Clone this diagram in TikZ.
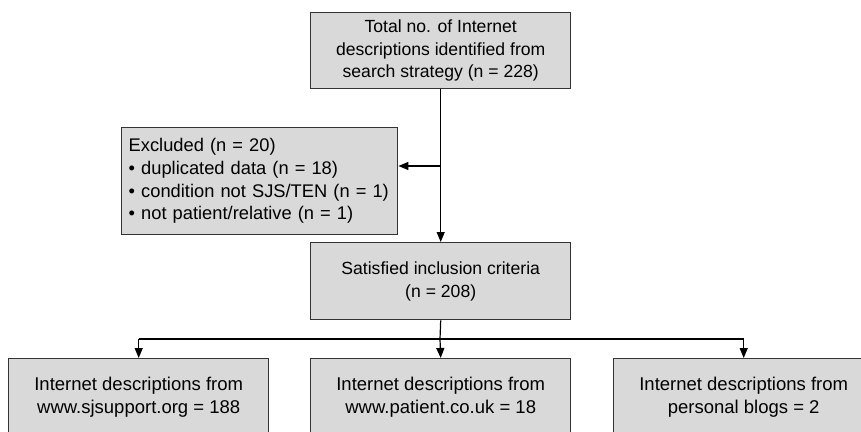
\documentclass[tikz,border=0pt]{standalone}
\usepackage{fontspec}
\setmainfont{Liberation Sans}
\usetikzlibrary{arrows.meta}
\begin{document}
\begin{tikzpicture}[x=1pt,y=-1pt,
  box/.style={draw=black!80,line width=1.4pt,fill=gray!30,inner sep=0pt,
    font=\fontsize{17.6}{22.7}\selectfont,align=center,anchor=north west,
    minimum width=260pt,minimum height=77pt},
  bigtext/.style={font=\fontsize{18.5}{22.5}\selectfont},
  conn/.style={line width=1.2pt,-{Triangle[length=10pt,width=8pt]}},
  plain/.style={line width=1.2pt}]
\clip (0,0) rectangle (861,431);
\fill[white] (0,0) rectangle (861,431);
\node[box,minimum height=76pt] (top) at (310,12) {Total no. of Internet\\descriptions identified from\\search strategy (n = 228)};
\node[box,align=left,text width=262pt,inner xsep=7pt,minimum height=107pt,
  font=\fontsize{18.3}{22.7}\selectfont] (excl) at (121,127)
  {\mbox{Excluded (n = 20)}\\\mbox{\textbullet\ duplicated data (n = 18)}\\\mbox{\textbullet\ condition not SJS/TEN (n = 1)}\\\mbox{\textbullet\ not patient/relative (n = 1)}};
\node[box] (mid) at (310,242) {Satisfied inclusion criteria\\(n = 208)};
\node[box,bigtext] (b1) at (8,358) {Internet descriptions from\\www.sjsupport.org = 188};
\node[box,bigtext] (b2) at (310,358) {Internet descriptions from\\www.patient.co.uk = 18};
\node[box,bigtext] (b3) at (613,358) {Internet descriptions from\\personal blogs = 2};
\coordinate (j1) at (440,166);
\coordinate (split) at (440,339);
\draw[conn] (top.south) -- (mid.north);
\draw[conn] (j1) -- (j1 -| excl.east);
\draw[plain] (mid.south) -- (split);
\draw[plain] (b1.north |- split) -- (b3.north |- split);
\draw[conn] (b1.north |- split) -- (b1.north);
\draw[conn] (split) -- (b2.north);
\draw[conn] (b3.north |- split) -- (b3.north);
\end{tikzpicture}
\end{document}
